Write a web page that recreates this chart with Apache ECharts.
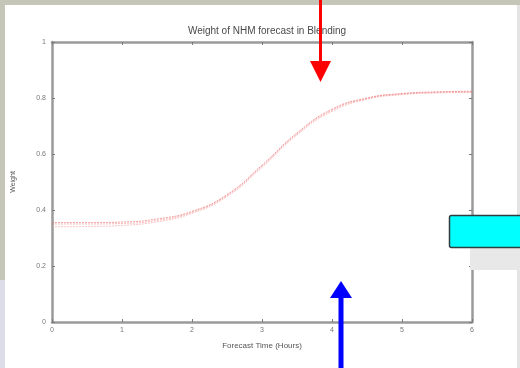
<!DOCTYPE html>
<html>
<head>
<meta charset="utf-8">
<script src="https://cdn.jsdelivr.net/npm/echarts@6/dist/echarts.min.js"></script>
<style>
  html, body { margin: 0; padding: 0; }
  #chart { width: 520px; height: 368px; }
</style>
</head>
<body>
<div id="chart"></div>
<script>
// forecast hours and the blended weight curves
const hours = [0, 0.5, 1, 1.5, 2, 2.5, 3, 3.5, 4, 4.5, 5, 5.5, 6];
const weightA = [0.355, 0.355, 0.357, 0.368, 0.395, 0.455, 0.560, 0.675, 0.760, 0.800, 0.816, 0.822, 0.824];
const weightB = [0.340, 0.341, 0.345, 0.358, 0.388, 0.448, 0.552, 0.668, 0.752, 0.795, 0.812, 0.818, 0.820];
const weightC = [0.350, 0.350, 0.352, 0.363, 0.392, 0.452, 0.557, 0.672, 0.756, 0.798, 0.814, 0.820, 0.822];
const xTicks = [0, 1, 2, 3, 4, 5, 6];

const toPairs = vals => hours.map((h, i) => [h, vals[i]]);

const frame = '#9a9a9a';
const labelColor = '#777';
const font = 'Liberation Sans, Arial, sans-serif';

const chart = echarts.init(document.getElementById('chart'));

const curve = (name, vals, color) => ({
  name: name,
  type: 'line',
  smooth: true,
  showSymbol: false,
  data: toPairs(vals),
  lineStyle: { color: color, width: 1, type: [2, 1] },
  z: 3
});

const boxAxis = {
  axisLine: { onZero: false, lineStyle: { color: frame, width: 2.5 } },
  axisTick: { inside: true, length: 3, lineStyle: { color: '#7a7a7a' } },
  splitLine: { show: false }
};

const option = {
  animation: false,
  backgroundColor: '#c5c6b8',
  title: {
    text: 'Weight of NHM forecast in Blending',
    left: 262,
    textAlign: 'center',
    top: 21,
    textStyle: { fontFamily: font, fontSize: 10, fontWeight: 'normal', color: '#4a4a4a' }
  },
  grid: { left: 52, right: 48, top: 42, bottom: 46 },
  xAxis: [
    Object.assign({
      type: 'value', min: 0, max: 6, interval: 1, position: 'bottom',
      name: 'Forecast Time (Hours)', nameLocation: 'middle', nameGap: 20,
      nameTextStyle: { fontFamily: font, fontSize: 8, color: '#555' },
      axisLabel: { fontFamily: font, fontSize: 7, color: labelColor, margin: 5,
        formatter: v => xTicks.includes(v) ? String(v) : '' }
    }, boxAxis),
    Object.assign({
      type: 'value', min: 0, max: 6, interval: 1, position: 'top',
      axisLabel: { show: false }
    }, boxAxis)
  ],
  yAxis: [
    Object.assign({
      type: 'value', min: 0, max: 1, interval: 0.2, position: 'left',
      name: 'Weight', nameLocation: 'middle', nameGap: 35, nameRotate: 90,
      nameTextStyle: { fontFamily: font, fontSize: 7, color: '#555' },
      axisLabel: { fontFamily: font, fontSize: 7, color: labelColor, margin: 6,
        formatter: v => (v === 0 || v === 1) ? String(v) : v.toFixed(1) }
    }, boxAxis),
    Object.assign({
      type: 'value', min: 0, max: 1, interval: 0.2, position: 'right',
      axisLabel: { show: false }
    }, boxAxis)
  ],
  series: [
    curve('A', weightA, 'rgba(240,120,120,0.7)'),
    curve('B', weightB, 'rgba(245,150,150,0.55)'),
    curve('C', weightC, 'rgba(235,110,110,0.45)')
  ],
  graphic: [
    // slide panel behind the plot
    { type: 'rect', shape: { x: 5, y: 5, width: 512, height: 363 }, style: { fill: '#ffffff' }, z: -10 },
    { type: 'rect', shape: { x: 517, y: 5, width: 3, height: 363 }, style: { fill: '#e4e4e4' }, z: -10 },
    { type: 'rect', shape: { x: 0, y: 280, width: 5, height: 88 }, style: { fill: '#dcdde8' }, z: -10 },
    // red arrow
    { type: 'rect', shape: { x: 319, y: 0, width: 3, height: 64 }, style: { fill: '#ff0000' }, z: 20 },
    { type: 'polygon', shape: { points: [[310, 61], [331, 61], [320.5, 82]] }, style: { fill: '#ff0000' }, z: 20 },
    // blue arrow
    { type: 'rect', shape: { x: 338.5, y: 296, width: 5, height: 72 }, style: { fill: '#0000ff' }, z: 20 },
    { type: 'polygon', shape: { points: [[330, 298], [352, 298], [341, 281]] }, style: { fill: '#0000ff' }, z: 20 },
    // cyan box with shadow
    { type: 'rect', shape: { x: 470, y: 248, width: 50, height: 22 }, style: { fill: '#e8e8e8' }, z: 19 },
    { type: 'rect', shape: { x: 449.5, y: 215.5, width: 80, height: 32, r: 2 }, style: { fill: '#00ffff', stroke: '#2f3f3f', lineWidth: 1.5 }, z: 20 }
  ]
};

chart.setOption(option);
</script>
</body>
</html>
